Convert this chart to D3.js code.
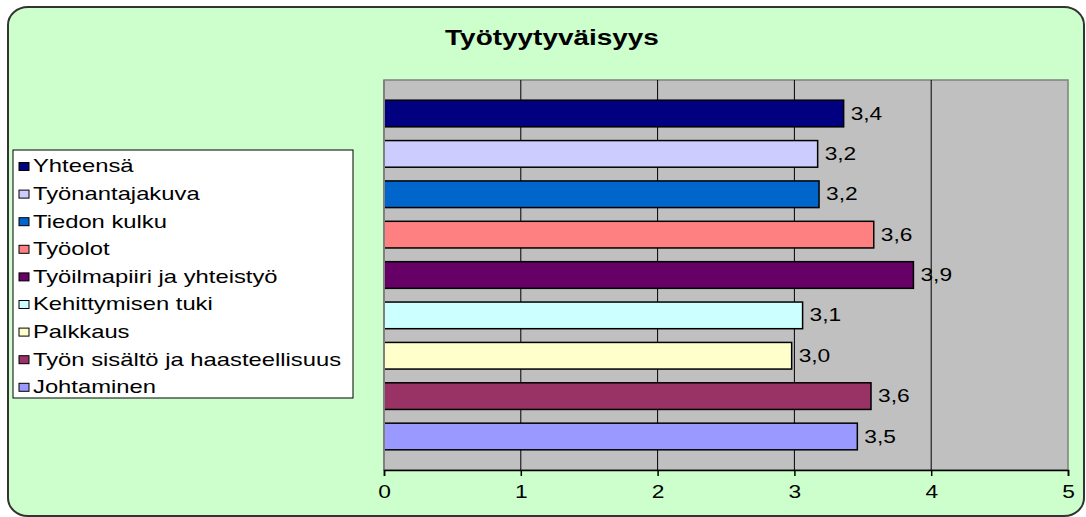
<!DOCTYPE html>
<html>
<head>
<meta charset="utf-8">
<script src="https://cdn.jsdelivr.net/npm/d3@7"></script>
<style>
  html, body { margin: 0; padding: 0; background: #ffffff; }
  svg { display: block; font-family: "Liberation Sans", Arial, sans-serif; }
</style>
</head>
<body>
<svg id="chart" width="1086" height="517"></svg>
<script>
// chart data (top bar first)
var chartTitle = "Työtyytyväisyys";
var categories = ["Yhteensä", "Työnantajakuva", "Tiedon kulku", "Työolot",
  "Työilmapiiri ja yhteistyö", "Kehittymisen tuki", "Palkkaus",
  "Työn sisältö ja haasteellisuus", "Johtaminen"];
var values = [3.36, 3.17, 3.18, 3.58, 3.87, 3.06, 2.98, 3.56, 3.46];
var barColors = ["#000080", "#CCCCFF", "#0066CC", "#FF8080", "#660066",
  "#CCFFFF", "#FFFFCC", "#993366", "#9999FF"];
var tickValues = [0, 1, 2, 3, 4, 5];

// the picture is stretched sideways, so text is too
var SX = 1.3;

var svg = d3.select("#chart");

// background panel
svg.append("rect")
  .attr("x", 8).attr("y", 7)
  .attr("width", 1076).attr("height", 509)
  .attr("rx", 20).attr("ry", 18)
  .attr("fill", "#CCFFCC")
  .attr("stroke", "#333333")
  .attr("stroke-width", 2);

// title
svg.append("text")
  .attr("transform", "translate(552,37) scale(" + SX + ",1)")
  .attr("text-anchor", "middle")
  .attr("dominant-baseline", "central")
  .attr("font-size", 21.5)
  .attr("font-weight", "bold")
  .text(chartTitle);

// scales
var x = d3.scaleLinear().domain([0, 5]).range([384, 1068]);
var y = d3.scaleBand().domain(categories).range([80, 470])
  .paddingInner(0.34).paddingOuter(0.5);

// plot area
svg.append("rect")
  .attr("x", x(0)).attr("y", 80)
  .attr("width", x(5) - x(0)).attr("height", 390)
  .attr("fill", "#C0C0C0")
  .attr("stroke", "#808080")
  .attr("stroke-width", 1.5);

// gridlines
svg.append("g").selectAll("line")
  .data(tickValues.filter(function (d) { return d > 0 && d < 5; }))
  .enter().append("line")
  .attr("x1", function (d) { return x(d); })
  .attr("x2", function (d) { return x(d); })
  .attr("y1", 80).attr("y2", 470)
  .attr("stroke", "#000000")
  .attr("stroke-width", 1);

// bars
svg.append("g").selectAll("rect")
  .data(categories)
  .enter().append("rect")
  .attr("x", x(0))
  .attr("y", function (d) { return y(d); })
  .attr("width", function (d, i) { return x(values[i]) - x(0); })
  .attr("height", y.bandwidth())
  .attr("fill", function (d, i) { return barColors[i]; })
  .attr("stroke", "#000000")
  .attr("stroke-width", 1.5);

// value labels
var fmt = d3.format(".1f");
svg.append("g").selectAll("text")
  .data(categories)
  .enter().append("text")
  .attr("transform", function (d, i) {
    return "translate(" + (x(values[i]) + 7) + "," + (y(d) + y.bandwidth() / 2) + ") scale(" + SX + ",1)";
  })
  .attr("dominant-baseline", "central")
  .attr("font-size", 17.5)
  .text(function (d, i) { return fmt(values[i]).replace(".", ","); });

// left axis line
svg.append("line")
  .attr("x1", x(0)).attr("x2", x(0))
  .attr("y1", 80).attr("y2", 470)
  .attr("stroke", "#808080")
  .attr("stroke-width", 2);

// bottom axis
var axis = svg.append("g")
  .attr("transform", "translate(0,470)")
  .call(d3.axisBottom(x).tickValues(tickValues).tickSize(6).tickPadding(10)
    .tickFormat(function (d) { return d; }));
axis.select(".domain").attr("stroke", "#000000").attr("stroke-width", 1.5);
axis.selectAll(".tick line").attr("stroke", "#000000").attr("stroke-width", 1.5);
axis.selectAll(".tick text")
  .attr("font-size", 17.5)
  .attr("font-family", "Liberation Sans, Arial, sans-serif")
  .attr("fill", "#000000")
  .attr("transform", "scale(" + SX + ",1)");

// legend
var legend = svg.append("g");
legend.append("rect")
  .attr("x", 13).attr("y", 150)
  .attr("width", 340).attr("height", 248)
  .attr("fill", "#ffffff")
  .attr("stroke", "#000000")
  .attr("stroke-width", 1);

var item = legend.selectAll("g.item")
  .data(categories)
  .enter().append("g")
  .attr("class", "item")
  .attr("transform", function (d, i) { return "translate(0," + (166 + i * 27.6) + ")"; });

item.append("rect")
  .attr("x", 19).attr("y", -3.5)
  .attr("width", 10).attr("height", 8)
  .attr("fill", function (d, i) { return barColors[i]; })
  .attr("stroke", "#000000")
  .attr("stroke-width", 1);

item.append("text")
  .attr("transform", "translate(33,0) scale(" + SX + ",1)")
  .attr("dominant-baseline", "central")
  .attr("font-size", 18.3)
  .text(function (d) { return d; });
</script>
</body>
</html>
